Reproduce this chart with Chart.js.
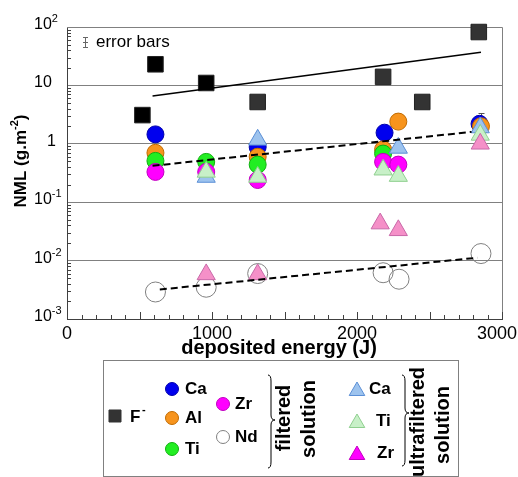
<!DOCTYPE html>
<html>
<head>
<meta charset="utf-8">
<script src="https://cdn.jsdelivr.net/npm/chart.js@4.4.0/dist/chart.umd.min.js"></script>
<style>
html, body { margin: 0; padding: 0; background: #fff; }
#wrap { width: 518px; height: 477px; }
</style>
</head>
<body>
<div id="wrap"><canvas id="chart" width="518" height="477"></canvas></div>
<script>
// F- release
var energyF = [520, 610, 960, 1315, 2180, 2450, 2840];
var nmlF = [3.1, 23, 11, 5.2, 14, 5.2, 82];

// filtered solution
var energyCaF = [610, 1315, 2190, 2845];
var nmlCaF = [1.45, 0.88, 1.55, 2.2];
var energyAlF = [610, 1315, 2180, 2285, 2855];
var nmlAlF = [0.7, 0.6, 0.8, 2.4, 2.0];
var energyTiF = [610, 960, 1315, 2180];
var nmlTiF = [0.51, 0.49, 0.44, 0.68];
var energyZrF = [610, 960, 1315, 2180, 2285];
var nmlZrF = [0.33, 0.33, 0.24, 0.49, 0.44];
var energyNdF = [610, 960, 1315, 2180, 2290, 2855];
var nmlNdF = [0.0029, 0.0035, 0.006, 0.0062, 0.0048, 0.0132];

// ultrafiltered solution
var energyCaU = [960, 1315, 2285, 2850];
var nmlCaU = [0.27, 1.17, 0.85, 1.9];
var energyTiU = [960, 1315, 2180, 2285, 2850];
var nmlTiU = [0.33, 0.27, 0.36, 0.28, 1.42];
var energyZrU = [960, 1315, 2160, 2285, 2850];
var nmlZrU = [0.0058, 0.0058, 0.043, 0.033, 1.0];

// trend lines
var trendEnergyF = [590, 2855];
var trendNmlF = [6.6, 37];
var trendEnergyFilt = [590, 2790];
var trendNmlFilt = [0.42, 1.6];
var trendEnergyNd = [640, 2830];
var trendNmlNd = [0.0032, 0.0112];

// error bar (Al, last point)
var errEnergy = [2855];
var errLow = [2.0];
var errHigh = [3.4];

// axis ticks
var xTickValues = [0, 1000, 2000, 3000];
var yTickExponents = [2, 1, 0, -1, -2, -3];

var FONT = '"Liberation Sans", Arial, sans-serif';

function pts(xs, ys) {
    return xs.map(function (x, i) { return { x: x, y: ys[i] }; });
}

function marks(label, xs, ys, style, r, fill, border, order) {
    return {
        label: label,
        data: pts(xs, ys),
        pointStyle: style,
        pointRadius: r,
        pointHoverRadius: r,
        backgroundColor: fill,
        borderColor: border,
        borderWidth: 1,
        showLine: false,
        clip: false,
        order: order
    };
}

function trend(xs, ys, dash, width) {
    return {
        data: pts(xs, ys),
        showLine: true,
        pointRadius: 0,
        borderColor: '#000',
        borderWidth: width,
        borderDash: dash,
        fill: false,
        clip: false,
        order: 0
    };
}

function drawPow(ctx, exp, x, y) {
    ctx.font = '16px ' + FONT;
    if (exp === 0) {
        ctx.fillText('1', x + 13, y);
        return;
    }
    ctx.fillText('10', x, y);
    if (exp === 1) return;
    var w = ctx.measureText('10').width;
    ctx.font = '11px ' + FONT;
    ctx.fillText(exp < 0 ? '-' + (-exp) : String(exp), x + w, y - 7);
}

function brace(ctx, x, top, mid, bot) {
    ctx.beginPath();
    ctx.moveTo(x, top);
    ctx.quadraticCurveTo(x + 3, top, x + 3, top + 6);
    ctx.lineTo(x + 3, mid - 5);
    ctx.quadraticCurveTo(x + 3, mid, x + 7, mid);
    ctx.quadraticCurveTo(x + 3, mid, x + 3, mid + 5);
    ctx.lineTo(x + 3, bot - 6);
    ctx.quadraticCurveTo(x + 3, bot, x, bot);
    ctx.stroke();
}

function vtext(ctx, text, cx, cy) {
    ctx.save();
    ctx.translate(cx, cy);
    ctx.rotate(-Math.PI / 2);
    ctx.textAlign = 'center';
    ctx.textBaseline = 'middle';
    ctx.fillText(text, 0, 0);
    ctx.restore();
}

var decor = {
    id: 'decor',
    beforeDatasetsDraw: function (chart) {
        var ctx = chart.ctx, a = chart.chartArea;
        var xs = chart.scales.x, ys = chart.scales.y;
        ctx.save();
        ctx.setLineDash([]);
        ctx.lineWidth = 1;
        // top and right frame
        ctx.strokeStyle = '#808080';
        ctx.beginPath();
        ctx.moveTo(a.left, a.top + 0.5);
        ctx.lineTo(a.right + 0.5, a.top + 0.5);
        ctx.lineTo(a.right + 0.5, a.bottom);
        ctx.stroke();

        // bottom axis line
        ctx.strokeStyle = '#404040';
        ctx.beginPath();
        ctx.moveTo(a.left, a.bottom + 0.5);
        ctx.lineTo(a.right + 1, a.bottom + 0.5);
        ctx.stroke();

        // inward minor ticks
        ctx.beginPath();
        for (var d = -3; d < 2; d++) {
            for (var k = 2; k < 10; k++) {
                var py = Math.round(ys.getPixelForValue(k * Math.pow(10, d))) + 0.5;
                ctx.moveTo(a.left, py);
                ctx.lineTo(a.left + 4, py);
            }
        }
        for (var e = 0; e <= 3000; e += 100) {
            var px = Math.round(xs.getPixelForValue(e)) + 0.5;
            var len = e % 500 === 0 ? 7 : 4;
            ctx.moveTo(px, a.bottom);
            ctx.lineTo(px, a.bottom - len);
        }
        ctx.stroke();

        // error bars
        ctx.strokeStyle = '#555';
        ctx.beginPath();
        errEnergy.forEach(function (en, i) {
            var px = Math.round(xs.getPixelForValue(en)) + 0.5;
            var hi = Math.round(ys.getPixelForValue(errHigh[i])) + 0.5;
            ctx.moveTo(px, ys.getPixelForValue(errLow[i]));
            ctx.lineTo(px, hi);
            ctx.moveTo(px - 3, hi);
            ctx.lineTo(px + 3, hi);
        });
        ctx.stroke();
        ctx.restore();
    },
    afterDraw: function (chart) {
        var ctx = chart.ctx, a = chart.chartArea;
        var xs = chart.scales.x, ys = chart.scales.y;
        ctx.save();
        ctx.setLineDash([]);
        ctx.fillStyle = '#000';

        // y tick labels
        ctx.textAlign = 'left';
        ctx.textBaseline = 'alphabetic';
        yTickExponents.forEach(function (p) {
            drawPow(ctx, p, 34, ys.getPixelForValue(Math.pow(10, p)) + 2);
        });

        // x tick labels
        ctx.font = '18px ' + FONT;
        ctx.textAlign = 'center';
        xTickValues.forEach(function (v) {
            var w = ctx.measureText(String(v)).width;
            var px = Math.min(xs.getPixelForValue(v), chart.width - w / 2 - 1);
            ctx.fillText(String(v), px, a.bottom + 20);
        });

        // axis titles
        ctx.font = 'bold 20px ' + FONT;
        ctx.textBaseline = 'middle';
        ctx.fillText('deposited energy (J)', 279, 348);

        ctx.save();
        ctx.translate(21, 161);
        ctx.rotate(-Math.PI / 2);
        ctx.font = 'bold 17px ' + FONT;
        var t1 = 'NML (g.m', t2 = '-2', t3 = ')';
        var w1 = ctx.measureText(t1).width;
        var w3 = ctx.measureText(t3).width;
        ctx.font = 'bold 11px ' + FONT;
        var w2 = ctx.measureText(t2).width;
        var x0 = -(w1 + w2 + w3) / 2;
        ctx.textAlign = 'left';
        ctx.font = 'bold 17px ' + FONT;
        ctx.fillText(t1, x0, 0);
        ctx.fillText(t3, x0 + w1 + w2, 0);
        ctx.font = 'bold 11px ' + FONT;
        ctx.fillText(t2, x0 + w1, -6);
        ctx.restore();

        // error bars key
        ctx.strokeStyle = '#666';
        ctx.lineWidth = 1;
        ctx.beginPath();
        ctx.moveTo(85.5, 37); ctx.lineTo(85.5, 48);
        ctx.moveTo(83, 37.5); ctx.lineTo(88, 37.5);
        ctx.moveTo(83, 47.5); ctx.lineTo(88, 47.5);
        ctx.moveTo(83, 42.5); ctx.lineTo(88, 42.5);
        ctx.stroke();
        ctx.font = '17px ' + FONT;
        ctx.textAlign = 'left';
        ctx.textBaseline = 'alphabetic';
        ctx.fillText('error bars', 96, 47);

        // legend box
        ctx.strokeStyle = '#808080';
        ctx.strokeRect(103.5, 360.5, 355, 116);

        var dp = Chart.helpers.drawPoint;
        function key(style, r, fill, border, x, y) {
            ctx.fillStyle = fill;
            ctx.strokeStyle = border;
            ctx.lineWidth = 1;
            dp(ctx, { pointStyle: style, radius: r, rotation: 0, borderWidth: 1 }, x, y);
        }
        key('rect', 8.5, '#333', '#333', 115, 416);
        key('circle', 6.5, '#0000ee', '#0000aa', 172, 389);
        key('circle', 6.5, '#f7941d', '#c06a00', 172, 418);
        key('circle', 6.5, '#22ee22', '#10b010', 172, 449);
        key('circle', 6.5, '#ff00ff', '#c000c0', 223, 404);
        key('circle', 6.5, '#ffffff', '#808080', 223, 437);
        key('triangle', 9, '#9dc3ee', '#5b8fd6', 357, 391);
        key('triangle', 9, '#c8f0c8', '#8fcf8f', 357, 423);
        key('triangle', 9, '#ff00ff', '#c000c0', 357, 455);

        ctx.fillStyle = '#000';
        ctx.font = 'bold 17px ' + FONT;
        ctx.textBaseline = 'middle';
        ctx.textAlign = 'left';
        ctx.fillText('F', 130, 417);
        ctx.font = 'bold 11px ' + FONT;
        ctx.fillText('-', 142, 410);
        ctx.font = 'bold 17px ' + FONT;
        ctx.fillText('Ca', 185, 389);
        ctx.fillText('Al', 185, 418);
        ctx.fillText('Ti', 185, 449);
        ctx.fillText('Zr', 235, 404);
        ctx.fillText('Nd', 235, 437);
        ctx.fillText('Ca', 369, 389);
        ctx.fillText('Ti', 376, 421);
        ctx.fillText('Zr', 377, 453);

        ctx.strokeStyle = '#000';
        brace(ctx, 268, 375, 420, 468);
        brace(ctx, 402, 375, 413, 466);

        ctx.font = 'bold 20px ' + FONT;
        vtext(ctx, 'filtered', 284, 418);
        vtext(ctx, 'solution', 309, 419);
        vtext(ctx, 'ultrafiltered', 418, 422);
        vtext(ctx, 'solution', 443, 425);
        ctx.restore();
    }
};

var datasets = [
    trend(trendEnergyF, trendNmlF, [], 1.5),
    trend(trendEnergyFilt, trendNmlFilt, [7, 4], 2),
    trend(trendEnergyNd, trendNmlNd, [7, 4], 2),
    marks('F-', energyF, nmlF, 'rect', 11, function (c) { return c.dataIndex < 3 ? '#000' : '#333'; }, '#222', 1),
    marks('Zr ultrafiltered', energyZrU, nmlZrU, 'triangle', 10.5, '#f590c8', '#c868a8', 2),
    marks('Ti ultrafiltered', energyTiU, nmlTiU, 'triangle', 10.5, '#c8f0c8', '#8fcf8f', 3),
    marks('Ca ultrafiltered', energyCaU, nmlCaU, 'triangle', 10.5, '#9dc3ee', '#5b8fd6', 4),
    marks('Nd', energyNdF, nmlNdF, 'circle', 10, 'rgba(255,255,255,0)', '#808080', 5),
    marks('Zr', energyZrF, nmlZrF, 'circle', 8.5, '#ff00ff', '#c000c0', 6),
    marks('Ti', energyTiF, nmlTiF, 'circle', 8.5, '#22ee22', '#10b010', 7),
    marks('Al', energyAlF, nmlAlF, 'circle', 8.5, '#f7941d', '#c06a00', 8),
    marks('Ca', energyCaF, nmlCaF, 'circle', 8.5, '#0000ee', '#0000aa', 9)
];

new Chart(document.getElementById('chart'), {
    type: 'scatter',
    data: { datasets: datasets },
    options: {
        responsive: false,
        animation: false,
        devicePixelRatio: 1,
        layout: { padding: { left: 67, right: 16, top: 27, bottom: 158 } },
        plugins: {
            legend: { display: false },
            tooltip: { enabled: false }
        },
        scales: {
            x: {
                type: 'linear',
                display: false,
                min: 0,
                max: 3000
            },
            y: {
                type: 'logarithmic',
                min: 0.001,
                max: 100,
                grid: {
                    drawTicks: false,
                    color: function (c) {
                        var l = Math.log10(c.tick.value);
                        return Math.abs(l - Math.round(l)) < 1e-6 ? '#808080' : 'rgba(0,0,0,0)';
                    }
                },
                ticks: { display: false },
                border: { color: '#404040', width: 1 }
            }
        }
    },
    plugins: [decor]
});
</script>
</body>
</html>
